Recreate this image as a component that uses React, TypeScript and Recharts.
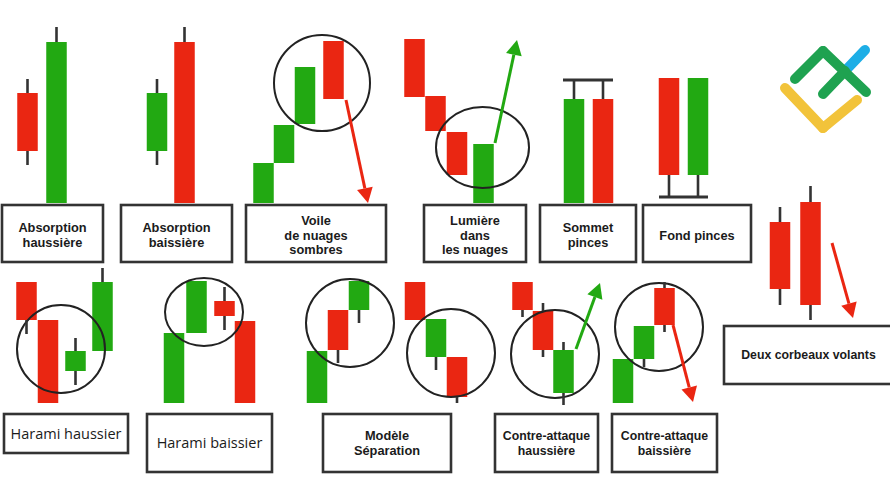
import { ComposedChart, XAxis, YAxis, ReferenceArea, ReferenceLine } from 'recharts'

const RED = '#ea2612'
const GREEN = '#22a912'
const INK = '#333333'

// each candle: [x, open, close, high, low] (high/low left out when there is no wick)
const absorptionHaussiere = [[27.5, 406, 348, 420, 334], [56.5, 296, 457, 472, 296]]
const absorptionBaissiere = [[157, 348, 406, 420, 334], [184.5, 457, 296, 472, 296]]
const voileNuages = [[263.5, 296, 336], [284, 336, 374], [305, 375, 432], [333.5, 458, 400]]
const lumiereNuages = [[414.5, 460, 402], [435.5, 403, 368], [457, 367, 324], [483.5, 296, 355]]
const sommetPinces = [[574, 296, 400, 419, 296], [603, 400, 296, 419, 296]]
const fondPinces = [[669, 421, 324, 421, 302], [698, 324, 421, 421, 302]]
const deuxCorbeaux = [[780, 277, 210, 292, 194], [810.5, 297, 194, 313, 179]]
const haramiHaussier = [[26.5, 217, 179, 217, 165], [48, 179, 96], [75.5, 128, 148, 161, 114], [102.5, 148, 217, 231, 148]]
const haramiBaissier = [[174, 96, 166], [196.5, 166, 218], [224.5, 198, 183, 212, 169], [245, 178, 96]]
const separation = [[317, 96, 148], [338, 189, 149, 189, 136], [359, 189, 218, 218, 176]]
const separationBis = [[415, 217, 179], [436, 142, 180, 180, 129], [457, 142, 102, 142, 96]]
const contreHaussiere = [[522.5, 217, 189, 217, 182], [543, 188, 149, 196, 142], [563.5, 106, 149, 157, 94]]
const contreBaissiere = [[623, 96, 140], [644, 140, 173, 173, 132], [664.5, 211, 174, 217, 167]]

// label boxes: text lines, x range, price range
const boxTexts = [
  ['Absorption', 'haussière'],
  ['Absorption', 'baissière'],
  ['Voile', 'de nuages', 'sombres'],
  ['Lumière', 'dans', 'les nuages'],
  ['Sommet', 'pinces'],
  ['Fond pinces'],
  ['Harami haussier'],
  ['Harami baissier'],
  ['Modèle', 'Séparation'],
  ['Contre-attaque', 'haussière'],
  ['Contre-attaque', 'baissière'],
  ['Deux corbeaux volants'],
]
const boxX = [[2, 103], [121, 232], [246, 386], [424, 526], [540, 636], [643, 751], [4, 128], [147, 272], [323, 451], [495, 598], [612, 717], [724, 893]]
const boxY = [[237, 294], [237, 294], [237, 294], [237, 294], [237, 294], [237, 294], [46, 85], [27, 85], [27, 85], [27, 85], [27, 85], [115, 173]]

// highlighted groups (ellipses): x range, price range
const ringX = [[274, 370], [436, 529], [17, 105], [165, 243], [306, 394], [407, 495], [511, 599], [615, 703]]
const ringY = [[368, 464], [311, 392], [106, 194], [153, 221], [132, 220], [102, 190], [101, 189], [128, 216]]

// trend arrows: [fromX, fromY, toX, toY]
const arrowPts = [[346, 399, 368, 296], [495, 356, 517, 459], [832, 256, 853, 181], [576, 150, 600, 216], [673, 174, 693, 97]]
const arrowUp = [false, true, false, true, false]

// pince bars: [x from, x to, level]
const pinceLines = [[563, 613, 419], [659, 708, 302]]

// logo strokes
const logoStrokes = [
  { c: '#f2c33a', pts: [[785, 411], [823, 371], [857, 399]] },
  { c: '#1daee6', pts: [[845, 428], [865, 449]] },
  { c: '#1fa250', pts: [[795, 420], [823, 448], [866, 407]] },
  { c: '#1fa250', pts: [[823, 405], [845, 428]] },
]

const allCandles = [
  ...absorptionHaussiere, ...absorptionBaissiere, ...voileNuages, ...lumiereNuages,
  ...sommetPinces, ...fondPinces, ...deuxCorbeaux, ...haramiHaussier, ...haramiBaissier,
  ...separation, ...separationBis, ...contreHaussiere, ...contreBaissiere,
]

const candles = allCandles.map(([x, o, c, h, l]) => {
  const lo = Math.min(o, c)
  const hi = Math.max(o, c)
  return { x, lo, hi, low: l ?? lo, high: h ?? hi, up: c > o }
})

// wick pieces that stick out of the bodies
const wicks = candles.flatMap((c) => {
  const out: number[][] = []
  if (c.high > c.hi) out.push([c.x, c.hi, c.high])
  if (c.low < c.lo) out.push([c.x, c.low, c.lo])
  return out
})

const HALF = 10.25
const LABEL_FONT = "'Liberation Sans', Arial, sans-serif"
const HARAMI_FONT = "'Open Sans', sans-serif"

function LabelBox(props: any) {
  const { x, y, width, height, lines, size, lh, weight, shift, font } = props
  const cx = x + width / 2
  const cy = y + height / 2 + shift
  const start = cy - ((lines.length - 1) * lh) / 2
  return (
    <g>
      <rect x={x} y={y} width={width} height={height} fill="#fff" stroke={INK} strokeWidth={2.6} />
      <text textAnchor="middle" fontFamily={font} fontSize={size} fontWeight={weight} fill="#1b1b1b">
        {lines.map((t: string, i: number) => (
          <tspan key={i} x={cx} y={start + i * lh + size * 0.36}>
            {t}
          </tspan>
        ))}
      </text>
    </g>
  )
}

function Body(props: any) {
  const { x, y, width, height, fill } = props
  return <rect x={x} y={y} width={width} height={height} fill={fill} />
}

function Ring(props: any) {
  const { x, y, width, height } = props
  return (
    <ellipse
      cx={x + width / 2}
      cy={y + height / 2}
      rx={width / 2}
      ry={height / 2}
      fill="none"
      stroke="#222"
      strokeWidth={2}
    />
  )
}

function Arrow(props: any) {
  const { x1, y1, x2, y2, color } = props
  const dx = x2 - x1
  const dy = y2 - y1
  const len = Math.hypot(dx, dy)
  const ux = dx / len
  const uy = dy / len
  const hl = 15
  const hw = 8
  const bx = x2 - ux * hl
  const by = y2 - uy * hl
  return (
    <g>
      <line x1={x1} y1={y1} x2={bx} y2={by} stroke={color} strokeWidth={3} />
      <polygon
        points={`${x2},${y2} ${bx - uy * hw},${by + ux * hw} ${bx + uy * hw},${by - ux * hw}`}
        fill={color}
      />
    </g>
  )
}

function Stroke(props: any) {
  const { x1, y1, x2, y2, color, width, cap } = props
  return <line x1={x1} y1={y1} x2={x2} y2={y2} stroke={color} strokeWidth={width} strokeLinecap={cap} />
}

export default function App() {
  return (
    <div style={{ position: 'absolute', left: 0, top: 0, width: 890, height: 499, background: '#fff' }}>
      <ComposedChart width={890} height={499} data={candles} margin={{ top: 0, right: 0, bottom: 0, left: 0 }}>
        <XAxis type="number" dataKey="x" domain={[0, 890]} hide allowDataOverflow />
        <YAxis type="number" domain={[0, 499]} hide allowDataOverflow />

        {boxTexts.map((lines, i) => {
          const row2 = i >= 6
          const harami = i === 6 || i === 7
          const size = harami ? 14.5 : i >= 9 ? 12.3 : 12.8
          return (
            <ReferenceArea
              key={'b' + i}
              x1={boxX[i][0]}
              x2={boxX[i][1]}
              y1={boxY[i][0]}
              y2={boxY[i][1]}
              ifOverflow="visible"
              shape={(p: any) => (
                <LabelBox
                  {...p}
                  lines={lines}
                  size={size}
                  lh={14.4}
                  font={harami ? HARAMI_FONT : LABEL_FONT}
                  weight={harami ? 500 : 700}
                  shift={row2 ? 0 : 1.5}
                />
              )}
            />
          )
        })}

        {pinceLines.map(([a, b, y], i) => (
          <ReferenceLine
            key={'p' + i}
            segment={[{ x: a, y }, { x: b, y }]}
            ifOverflow="visible"
            shape={(p: any) => <Stroke {...p} color={INK} width={3} cap="butt" />}
          />
        ))}

        {wicks.map(([x, a, b], i) => (
          <ReferenceLine
            key={'w' + i}
            segment={[{ x, y: a }, { x, y: b }]}
            ifOverflow="visible"
            shape={(p: any) => <Stroke {...p} color={INK} width={2.6} cap="butt" />}
          />
        ))}

        {candles.map((c, i) => (
          <ReferenceArea
            key={'c' + i}
            x1={c.x - HALF}
            x2={c.x + HALF}
            y1={c.lo}
            y2={c.hi}
            ifOverflow="visible"
            shape={(p: any) => <Body {...p} fill={c.up ? GREEN : RED} />}
          />
        ))}

        {ringX.map((r, i) => (
          <ReferenceArea
            key={'r' + i}
            x1={r[0]}
            x2={r[1]}
            y1={ringY[i][0]}
            y2={ringY[i][1]}
            ifOverflow="visible"
            shape={(p: any) => <Ring {...p} />}
          />
        ))}

        {arrowPts.map(([a, b, c, d], i) => (
          <ReferenceLine
            key={'a' + i}
            segment={[{ x: a, y: b }, { x: c, y: d }]}
            ifOverflow="visible"
            shape={(p: any) => <Arrow {...p} color={arrowUp[i] ? GREEN : RED} />}
          />
        ))}

        {logoStrokes.flatMap((s, i) =>
          s.pts.slice(1).map((pt, j) => (
            <ReferenceLine
              key={'l' + i + '-' + j}
              segment={[{ x: s.pts[j][0], y: s.pts[j][1] }, { x: pt[0], y: pt[1] }]}
              ifOverflow="visible"
              shape={(p: any) => <Stroke {...p} color={s.c} width={10} cap="round" />}
            />
          ))
        )}
      </ComposedChart>
    </div>
  )
}
